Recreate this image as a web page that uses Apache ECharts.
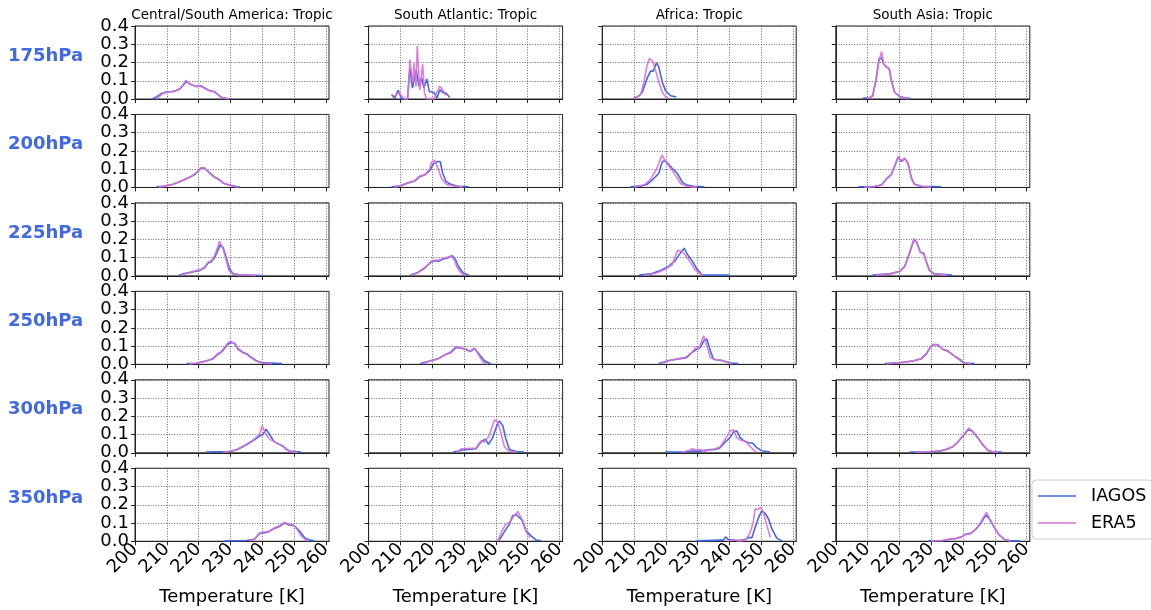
<!DOCTYPE html>
<html><head><meta charset="utf-8">
<script src="https://cdn.jsdelivr.net/npm/echarts@6/dist/echarts.min.js"></script>
<style>html,body{margin:0;padding:0;background:#fff}#c{width:1151px;height:610px}</style>
</head><body><div id="c"></div>
<script>
const levels = ['175hPa','200hPa','225hPa','250hPa','300hPa','350hPa'];
const regions = ['Central/South America: Tropic','South Atlantic: Tropic','Africa: Tropic','South Asia: Tropic'];
const xTicks = [200,210,220,230,240,250,260];
const yTicks = [0,0.1,0.2,0.3,0.4];
const seriesNames = ['IAGOS','ERA5'];
const xTitle = 'Temperature [K]';

// Central/South America
const csa175_iagos = [[205.5,0],[206.8,0.013],[208.4,0.03],[209.9,0.04],[211.2,0.04],[212.5,0.043],[214.1,0.055],[215.1,0.074],[216.2,0.098],[217.2,0.083],[218.3,0.074],[219.3,0.068],[220.7,0.072],[221.9,0.06],[223.5,0.046],[225,0.04],[226.1,0.024],[227.1,0.01],[228.5,0.004],[229.7,0]];
const csa175_era5 = [[206.6,0],[207.5,0.012],[208.6,0.028],[209.9,0.037],[211.2,0.04],[212.5,0.042],[214.1,0.057],[215.1,0.078],[216.0,0.102],[217.0,0.085],[218.3,0.075],[219.3,0.07],[220.7,0.07],[221.9,0.058],[223.5,0.045],[225,0.04],[226.1,0.022],[227.1,0.008],[228.5,0.003],[229.3,0]];
const csa200_iagos = [[206.8,0.004],[208.9,0.007],[212,0.018],[215.1,0.04],[217.7,0.06],[219.3,0.078],[220.7,0.105],[221.2,0.11],[221.9,0.105],[223.5,0.08],[225,0.057],[226.1,0.048],[227.7,0.025],[229.7,0.013],[231.8,0.005],[232.9,0.002]];
const csa200_era5 = [[207.5,0.003],[208.9,0.006],[212,0.017],[215.1,0.04],[217.7,0.061],[219.3,0.08],[220.7,0.108],[221.2,0.115],[221.9,0.107],[223.5,0.077],[225,0.055],[226.1,0.046],[227.7,0.023],[229.7,0.012],[231.5,0.004],[232.3,0.002]];
const csa225_iagos = [[213.9,0.004],[215.1,0.011],[217.2,0.018],[218.8,0.024],[220.4,0.03],[221.9,0.045],[223,0.07],[224,0.078],[225,0.1],[225.8,0.13],[226.8,0.17],[227.7,0.155],[228.7,0.1],[229.7,0.04],[230.8,0.012],[232.9,0.006],[240,0.002]];
const csa225_era5 = [[214.5,0.003],[215.1,0.01],[217.2,0.02],[218.8,0.027],[220.4,0.034],[221.9,0.048],[223,0.076],[224,0.083],[225,0.11],[225.8,0.148],[226.6,0.19],[227.7,0.148],[228.7,0.085],[229.5,0.03],[230.8,0.01],[232.9,0.005],[238,0.002]];
const csa250_iagos = [[216.2,0.004],[219.3,0.006],[222.4,0.018],[224.5,0.03],[225.8,0.052],[227.1,0.066],[228.2,0.088],[229.2,0.11],[230.3,0.12],[231.3,0.116],[232.4,0.086],[233.9,0.066],[235.2,0.057],[236.5,0.04],[238.1,0.02],[240.2,0.008],[246.2,0.004]];
const csa250_era5 = [[217,0.003],[219.3,0.006],[222.4,0.019],[224.5,0.032],[225.8,0.056],[227.1,0.07],[228.2,0.094],[229.2,0.117],[230.0,0.127],[231.3,0.113],[232.4,0.08],[233.9,0.064],[235.2,0.054],[236.5,0.036],[238.1,0.017],[240.2,0.006],[243,0.003]];
const csa300_iagos = [[222.2,0.004],[229.7,0.007],[231.8,0.015],[234.4,0.037],[237,0.065],[239.1,0.09],[240.2,0.1],[241.2,0.13],[242.3,0.1],[243.8,0.06],[246.5,0.037],[247.5,0.022],[248.5,0.01],[252.2,0.004]];
const csa300_era5 = [[227.7,0.003],[229.7,0.008],[231.8,0.017],[234.4,0.04],[237,0.068],[239.1,0.1],[240,0.148],[241.2,0.1],[242.3,0.075],[243.8,0.06],[246.5,0.035],[247.5,0.02],[248.5,0.008],[251.1,0.002]];
const csa350_iagos = [[228.2,0.002],[235,0.004],[237.6,0.011],[239.1,0.043],[240.2,0.046],[241.8,0.05],[243.3,0.066],[245.4,0.081],[247,0.1],[248.5,0.089],[250.1,0.085],[251.7,0.057],[253.3,0.02],[255,0.006],[256.4,0.002]];
const csa350_era5 = [[236,0.002],[237.6,0.012],[239.1,0.039],[240.2,0.05],[241.8,0.052],[243.3,0.068],[245.4,0.085],[247,0.103],[248.5,0.093],[249.6,0.09],[250.6,0.076],[252.2,0.03],[253.8,0.005],[254.5,0.001]];

// South Atlantic
const satl175_iagos = [[207.2,0.025],[208.2,0.005],[209.3,0.048],[210.3,0.003],[211,0],[212.2,0],[213.0,0.17],[213.8,0.06],[215.0,0.16],[215.8,0.07],[216.7,0.115],[217.4,0.06],[218.3,0.11],[219.1,0.04],[220,0.04],[220.8,0.03],[221.5,0.005],[222.4,0.05],[223.4,0.035],[224.5,0.03],[225.5,0.008]];
const satl175_era5 = [[208,0.015],[209.5,0.035],[210.7,0.01],[211.5,0],[212.3,0],[213.0,0.215],[213.9,0.085],[214.3,0.195],[214.9,0.067],[215.3,0.29],[216.1,0.05],[217.0,0.19],[217.6,0.03],[218.2,0],[220.5,0],[221.5,0.04],[222.4,0.07],[223.4,0.045],[224.3,0.02]];
const satl200_iagos = [[207.2,0.004],[209.8,0.007],[212.4,0.024],[214.5,0.035],[216,0.059],[217.6,0.068],[219.2,0.092],[220.5,0.133],[221.8,0.142],[222.5,0.142],[223.3,0.078],[224.4,0.031],[225.9,0.017],[228,0.006],[231.5,0.004]];
const satl200_era5 = [[208,0.003],[209.8,0.008],[212.4,0.027],[214.5,0.037],[216,0.062],[217.6,0.07],[219.2,0.1],[219.8,0.14],[220.8,0.15],[221.8,0.105],[222.9,0.05],[224.4,0.017],[226.5,0.009],[229.6,0.003]];
const satl225_iagos = [[213,0.004],[215.5,0.018],[217.6,0.042],[219.7,0.076],[220.8,0.083],[222.1,0.08],[223.4,0.092],[225,0.1],[226.3,0.11],[227.3,0.09],[228.3,0.05],[229.7,0.017],[231.5,0.004]];
const satl225_era5 = [[213.5,0.003],[215.5,0.02],[217.6,0.045],[219.7,0.08],[220.8,0.087],[222.1,0.085],[223.4,0.097],[225,0.103],[226,0.11],[227,0.085],[228,0.04],[229.3,0.012],[230.5,0.003]];
const satl250_iagos = [[216.3,0.004],[219.2,0.018],[221.8,0.031],[223.9,0.052],[225.6,0.062],[227.5,0.092],[229.1,0.089],[230.7,0.08],[231.9,0.07],[233.3,0.087],[234.9,0.052],[236.4,0.02],[238.5,0.002]];
const satl250_era5 = [[217,0.003],[219.2,0.017],[221.8,0.03],[223.9,0.05],[225.6,0.066],[227.5,0.097],[229.1,0.09],[230.7,0.083],[231.9,0.072],[233.3,0.089],[234.9,0.043],[236,0.012],[237.5,0.002]];
const satl300_iagos = [[226.6,0.004],[229.6,0.015],[233.8,0.022],[235.3,0.059],[236.7,0.074],[237.7,0.046],[239,0.083],[240.1,0.139],[241.1,0.175],[242.2,0.148],[243.2,0.074],[244.3,0.018],[246.4,0.007],[249,0.004]];
const satl300_era5 = [[227.6,0.003],[229.2,0.022],[233.8,0.026],[235.3,0.065],[236.4,0.059],[237.9,0.092],[239.5,0.18],[240.6,0.17],[241.6,0.11],[242.7,0.033],[244.3,0.007],[246.4,0.004]];
const satl350_iagos = [[240.6,0.002],[241.6,0.02],[243,0.061],[244.3,0.094],[245.3,0.14],[246.4,0.146],[247.4,0.13],[248.4,0.113],[249.5,0.057],[251.1,0.03],[252.6,0.007],[254.2,0.004]];
const satl350_era5 = [[240.6,0],[242.2,0.066],[243.2,0.094],[244.3,0.103],[245.8,0.14],[246.9,0.164],[247.9,0.131],[249,0.076],[250,0.039],[250.8,0.02]];

// Africa
const afr175_iagos = [[209.8,0.002],[211.6,0.018],[212.6,0.037],[214.2,0.117],[215.2,0.153],[216,0.153],[217.1,0.198],[217.8,0.176],[218.9,0.093],[219.9,0.046],[221.5,0.018],[223.3,0.011]];
const afr175_era5 = [[210,0.002],[212.1,0.024],[213.2,0.1],[214,0.176],[214.8,0.222],[215.8,0.209],[216.8,0.157],[217.8,0.093],[218.9,0.037],[219.9,0.013],[221,0.004]];
const afr200_iagos = [[208.9,0.004],[212.1,0.007],[214.2,0.018],[216.3,0.05],[217.8,0.078],[218.9,0.142],[219.9,0.146],[221,0.124],[222,0.105],[223.6,0.078],[225.2,0.028],[226.7,0.013],[228.8,0.006],[232.1,0.004]];
const afr200_era5 = [[209.9,0.002],[213,0.013],[215.1,0.041],[217.2,0.105],[218.8,0.178],[219.9,0.142],[221.5,0.105],[223,0.069],[224.6,0.022],[226.7,0.006],[229.8,0.002]];
const afr225_iagos = [[211.6,0.004],[215.2,0.011],[218.3,0.03],[220.9,0.052],[223,0.085],[224.6,0.126],[225.8,0.152],[226.7,0.12],[228.2,0.085],[229.8,0.037],[231.4,0.006],[240,0.004]];
const afr225_era5 = [[213.1,0.002],[216.8,0.015],[219.9,0.037],[222,0.061],[223.7,0.14],[224.6,0.137],[225.6,0.126],[227.2,0.089],[229.2,0.033],[230.8,0.011],[231.6,0.002]];
const afr250_iagos = [[217.7,0.004],[221.4,0.022],[226.5,0.037],[228.2,0.065],[229.8,0.083],[230.8,0.092],[232.1,0.133],[232.9,0.139],[234,0.074],[235,0.028],[237.1,0.022],[239.2,0.013],[240.7,0.007],[242.8,0.004]];
const afr250_era5 = [[218.2,0.003],[222.4,0.026],[226.1,0.037],[228.2,0.065],[229.6,0.096],[230.3,0.083],[231.9,0.157],[232.9,0.102],[234,0.037],[235.5,0.026],[237.6,0.022],[239.7,0.009],[240.7,0.002]];
const afr300_iagos = [[219.8,0.004],[225.5,0.004],[228.6,0.009],[230.8,0.009],[232.9,0.015],[235.5,0.018],[237.1,0.028],[238.7,0.059],[240.2,0.083],[241.3,0.115],[242.3,0.12],[243.4,0.083],[244.5,0.065],[246,0.055],[247.4,0.052],[248.6,0.028],[250.2,0.011],[252.8,0.004]];
const afr300_era5 = [[225,0.002],[227.6,0.015],[228.4,0.022],[229.5,0.015],[230.8,0.018],[232.3,0.009],[233.9,0.018],[235.5,0.022],[237.1,0.033],[238.7,0.074],[240.2,0.12],[241.3,0.126],[242.3,0.083],[243.4,0.069],[245,0.065],[246.6,0.033],[248.1,0.007],[248.6,0.002]];
const afr350_iagos = [[229.7,0.002],[237,0.006],[238.1,0.006],[238.8,0.024],[239.7,0.009],[242.3,0.004],[244.4,0.006],[246,0.02],[247.1,0.02],[248.1,0.076],[249.2,0.131],[250.2,0.168],[251.3,0.15],[252.3,0.122],[253.4,0.066],[254.9,0.017],[256.5,0.002]];
const afr350_era5 = [[239.3,0.002],[239.8,0.011],[241.3,0.007],[243.4,0.002],[245,0.006],[246.3,0.039],[247.4,0.094],[248.1,0.177],[248.9,0.174],[249.9,0.187],[250.8,0.15],[251.8,0.085],[252.9,0.02]];

// South Asia
const sasia175_iagos = [[208.4,0.004],[210.5,0.006],[211.6,0.018],[212.6,0.1],[213.6,0.22],[214.4,0.225],[215.1,0.19],[215.9,0.176],[216.8,0.165],[217.5,0.1],[218.5,0.037],[220.1,0.013],[221.7,0.006],[223.5,0.002]];
const sasia175_era5 = [[209.5,0.003],[210.5,0.006],[211.6,0.02],[212.6,0.1],[213.6,0.21],[214.4,0.259],[215.1,0.19],[215.9,0.176],[216.8,0.167],[217.5,0.1],[218.5,0.037],[220.1,0.013],[221.7,0.005],[222.8,0.002]];
const sasia200_iagos = [[207.1,0.004],[211.8,0.004],[214.4,0.013],[215.9,0.046],[217.5,0.072],[218.5,0.115],[219.6,0.165],[220.6,0.142],[221.7,0.158],[222.7,0.133],[223.8,0.05],[224.8,0.017],[226.9,0.006],[233.1,0.004]];
const sasia200_era5 = [[209,0.002],[211.8,0.004],[214.4,0.014],[215.9,0.047],[217.5,0.074],[218.5,0.117],[219.6,0.17],[220.6,0.145],[221.7,0.161],[222.7,0.13],[223.8,0.048],[224.8,0.016],[226.9,0.005],[230,0.002]];
const sasia225_iagos = [[211.6,0.004],[217,0.011],[220.1,0.024],[221.7,0.052],[223.2,0.126],[224.6,0.2],[225.5,0.181],[226.6,0.13],[227.6,0.126],[228.6,0.07],[229.5,0.03],[231,0.011],[236.6,0.004]];
const sasia225_era5 = [[212.5,0.003],[217,0.012],[220.1,0.025],[221.7,0.054],[223.2,0.128],[224.6,0.205],[225.5,0.18],[226.6,0.128],[227.6,0.122],[228.6,0.068],[229.5,0.028],[231,0.01],[235,0.003]];
const sasia250_iagos = [[215.4,0.004],[220.1,0.009],[224.3,0.018],[226.9,0.031],[228.4,0.055],[229.8,0.096],[230.7,0.107],[232.1,0.107],[233.6,0.083],[235.2,0.074],[237.3,0.046],[238.9,0.028],[240.5,0.007],[243.6,0.004]];
const sasia250_era5 = [[216,0.003],[220.1,0.009],[224.3,0.019],[226.9,0.032],[228.4,0.057],[229.8,0.098],[230.7,0.11],[232.1,0.108],[233.6,0.082],[235.2,0.072],[237.3,0.045],[238.9,0.025],[240.2,0.006],[242.5,0.003]];
const sasia300_iagos = [[223.2,0.004],[229.5,0.006],[232.6,0.009],[234.7,0.018],[236.8,0.033],[238.4,0.059],[240,0.092],[241.8,0.13],[243.1,0.115],[244.6,0.083],[246.1,0.046],[247.7,0.015],[249.3,0.006],[252.2,0.004]];
const sasia300_era5 = [[225,0.003],[229.5,0.006],[232.6,0.01],[234.7,0.019],[236.8,0.035],[238.4,0.06],[240,0.094],[241.8,0.135],[243.1,0.117],[244.6,0.085],[246.1,0.047],[247.7,0.014],[249.3,0.005],[251,0.003]];
const sasia350_iagos = [[229,0.002],[233.7,0.004],[235.8,0.011],[237.9,0.015],[239.5,0.024],[241,0.039],[242.5,0.043],[244.1,0.066],[245.6,0.1],[246.7,0.13],[247.4,0.142],[248.2,0.125],[249.8,0.076],[251.4,0.035],[253,0.011],[255,0.002],[257.9,0.002]];
const sasia350_era5 = [[230,0.002],[233.7,0.004],[235.8,0.012],[237.9,0.016],[239.5,0.025],[241,0.04],[242.5,0.045],[244.1,0.068],[245.6,0.105],[246.7,0.14],[247.4,0.159],[248.2,0.131],[249.8,0.076],[251.4,0.033],[253,0.01],[255,0.002]];

const iagosTable = [
  [csa175_iagos, satl175_iagos, afr175_iagos, sasia175_iagos],
  [csa200_iagos, satl200_iagos, afr200_iagos, sasia200_iagos],
  [csa225_iagos, satl225_iagos, afr225_iagos, sasia225_iagos],
  [csa250_iagos, satl250_iagos, afr250_iagos, sasia250_iagos],
  [csa300_iagos, satl300_iagos, afr300_iagos, sasia300_iagos],
  [csa350_iagos, satl350_iagos, afr350_iagos, sasia350_iagos]
];
const era5Table = [
  [csa175_era5, satl175_era5, afr175_era5, sasia175_era5],
  [csa200_era5, satl200_era5, afr200_era5, sasia200_era5],
  [csa225_era5, satl225_era5, afr225_era5, sasia225_era5],
  [csa250_era5, satl250_era5, afr250_era5, sasia250_era5],
  [csa300_era5, satl300_era5, afr300_era5, sasia300_era5],
  [csa350_era5, satl350_era5, afr350_era5, sasia350_era5]
];

const FONT = 'DejaVu Sans';
const BLUE = '#4169E1', PINK = '#DA70D6';
const L0 = 135, T0 = 26, DX = 233.6, DY = 88.45, W = 194, H = 73;

const grids = [], xAxes = [], yAxes = [], series = [], graphics = [];
const gridLine = {show: true, lineStyle: {color: '#444', width: 0.8, type: [1, 1.6]}};
for (let r = 0; r < levels.length; r++) {
  for (let c = 0; c < regions.length; c++) {
    const idx = r * regions.length + c;
    grids.push({left: L0 + c * DX, top: T0 + r * DY, width: W, height: H, show: true,
      borderColor: '#222', borderWidth: 1, backgroundColor: 'transparent', containLabel: false});
    const bottom = r === levels.length - 1;
    xAxes.push({gridIndex: idx, type: 'value', min: 200, max: 261, interval: 10,
      axisLine: {show: true, onZero: false, lineStyle: {color: '#222', width: 1}},
      axisTick: {show: true, length: 4, customValues: xTicks, lineStyle: {color: '#222'}},
      axisLabel: {show: bottom, customValues: xTicks, rotate: 45, margin: 5, fontSize: 18,
        fontFamily: FONT, color: '#000'},
      splitLine: gridLine,
      name: bottom ? xTitle : '', nameLocation: 'middle', nameGap: 47,
      nameTextStyle: {fontSize: 18, fontFamily: FONT, color: '#000'}});
    yAxes.push({gridIndex: idx, type: 'value', min: 0, max: 0.4, interval: 0.1,
      axisLine: {show: true, lineStyle: {color: '#222', width: 1}},
      axisTick: {show: true, length: 4, customValues: yTicks, lineStyle: {color: '#222'}},
      axisLabel: {show: c === 0, customValues: yTicks, margin: 6, fontSize: 18, fontFamily: FONT, color: '#000',
        formatter: v => v.toFixed(1)},
      splitLine: gridLine});
    series.push({name: seriesNames[0], type: 'line', xAxisIndex: idx, yAxisIndex: idx,
      data: iagosTable[r][c], symbol: 'none', showSymbol: false, animation: false,
      lineStyle: {color: BLUE, width: 1.6}, itemStyle: {color: BLUE}, z: 3});
    series.push({name: seriesNames[1], type: 'line', xAxisIndex: idx, yAxisIndex: idx,
      data: era5Table[r][c], symbol: 'none', showSymbol: false, animation: false,
      lineStyle: {color: PINK, width: 1.6, opacity: 0.9}, itemStyle: {color: PINK}, z: 4});
  }
}
for (let c = 0; c < regions.length; c++) {
  graphics.push({type: 'text', x: L0 + c * DX + W / 2, y: 15.5,
    style: {text: regions[c], font: '13.5px "DejaVu Sans"', fill: '#000', align: 'center', verticalAlign: 'middle'}});
}
for (let r = 0; r < levels.length; r++) {
  graphics.push({type: 'text', x: 45.5, y: T0 + r * DY + 30,
    style: {text: levels[r], font: 'bold 18px "DejaVu Sans"', fill: BLUE, align: 'center', verticalAlign: 'middle'}});
}

const chart = echarts.init(document.getElementById('c'), null, {renderer: 'canvas'});
chart.setOption({
  animation: false,
  backgroundColor: '#fff',
  grid: grids, xAxis: xAxes, yAxis: yAxes, series: series,
  legend: {data: seriesNames, orient: 'vertical', left: 1032, top: 480,
    icon: 'rect', itemWidth: 38, itemHeight: 1.6, itemGap: 7, padding: [6, 6, 6, 6],
    backgroundColor: '#fff', borderColor: '#ccc', borderWidth: 1, borderRadius: 4,
    textStyle: {fontSize: 17.5, fontFamily: FONT, color: '#000', padding: [0, 0, 0, 10], lineHeight: 20}},
  graphic: graphics
});
</script></body></html>
